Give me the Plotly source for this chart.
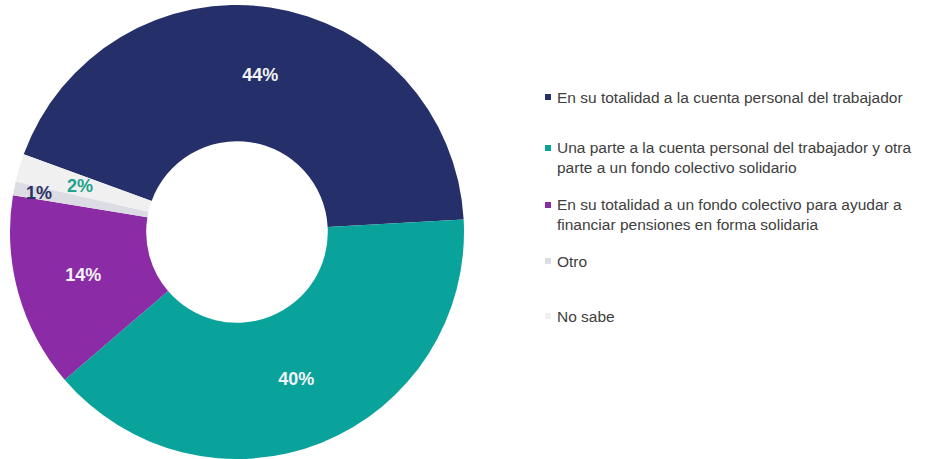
import math
import plotly.graph_objects as go

# Survey answers and their shares (percent)
categories = [
    "En su totalidad a la cuenta personal del trabajador",
    "Una parte a la cuenta personal del trabajador y otra parte a un fondo colectivo solidario",
    "En su totalidad a un fondo colectivo para ayudar a financiar pensiones en forma solidaria",
    "Otro",
    "No sabe",
]
legend_lines = [
    "En su totalidad a la cuenta personal del trabajador",
    "Una parte a la cuenta personal del trabajador y otra<br>parte a un fondo colectivo solidario",
    "En su totalidad a un fondo colectivo para ayudar a<br>financiar pensiones en forma solidaria",
    "Otro",
    "No sabe",
]
shares = [44, 40, 14, 1, 2]

colors = ["#25306b", "#0aa39b", "#8b2ba6", "#dcdce4", "#f0f0f0"]
small_label_colors = [None, None, None, "#2b3262", "#1fa38f"]

W, H = 938, 459
CX, CY, R = 237, 232, 227          # donut centre / radius in px
HOLE = 0.40
ROTATION = 290                      # start angle of first slice, clockwise from 12 o'clock
FONT = "Arial, Liberation Sans, sans-serif"

# Large slices get their label inside; the tiny ones are labelled separately
templates = ["<b>%{value}%</b>" if v >= 5 else "" for v in shares]

fig = go.Figure(
    go.Pie(
        labels=categories,
        values=shares,
        sort=False,
        direction="clockwise",
        rotation=ROTATION,
        hole=HOLE,
        marker=dict(colors=colors, line=dict(width=0)),
        texttemplate=templates,
        textposition="inside",
        insidetextorientation="horizontal",
        insidetextfont=dict(family=FONT, size=18, color="#f2f3f7"),
        hoverinfo="label+value",
        showlegend=False,
        domain=dict(x=[(CX - R) / W, (CX + R) / W], y=[0, 1 - (CY - R) / H]),
    )
)

annotations = []
shapes = []

# Labels for the thin slices, placed along each slice's mid angle
total = sum(shares)
cum = 0
radius_frac = {3: 0.89, 4: 0.72}
for i, v in enumerate(shares):
    mid = ROTATION + (cum + v / 2) / total * 360
    cum += v
    if i in radius_frac:
        a = math.radians(mid)
        r = R * radius_frac[i]
        px = CX + r * math.sin(a)
        py = CY - r * math.cos(a)
        annotations.append(dict(
            x=px / W, y=1 - py / H, xref="paper", yref="paper",
            xanchor="center", yanchor="middle",
            text=f"<b>{v}%</b>", showarrow=False,
            font=dict(family=FONT, size=18, color=small_label_colors[i]),
        ))

# Legend: small square swatch + label
legend_first_line_y = [97, 148, 205, 261, 316]
line_gap = 18
for i, (txt, col) in enumerate(zip(legend_lines, colors)):
    y0 = legend_first_line_y[i]
    n_lines = txt.count("<br>") + 1
    center = y0 + (n_lines - 1) * line_gap / 2
    shapes.append(dict(
        type="rect", xref="paper", yref="paper",
        x0=545 / W, x1=551 / W, y0=1 - (y0 + 3) / H, y1=1 - (y0 - 3) / H,
        fillcolor=col, line=dict(width=0),
    ))
    annotations.append(dict(
        x=555 / W, y=1 - center / H, xref="paper", yref="paper",
        xanchor="left", yanchor="middle", align="left",
        text=txt, showarrow=False,
        font=dict(family=FONT, size=15.5, color="#404040"),
    ))

fig.update_layout(
    width=W, height=H,
    margin=dict(l=0, r=0, t=0, b=0),
    paper_bgcolor="white",
    plot_bgcolor="white",
    annotations=annotations,
    shapes=shapes,
)

fig.write_html("out.html")
